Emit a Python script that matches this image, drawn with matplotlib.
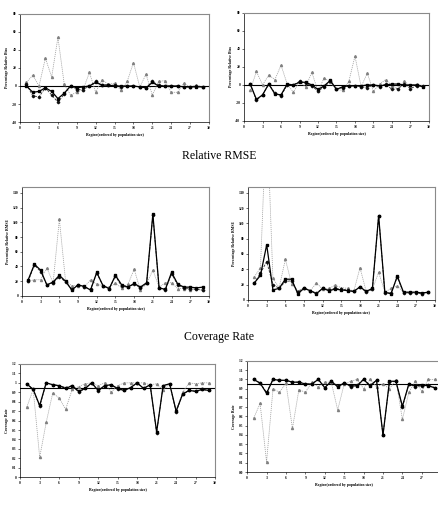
import matplotlib
matplotlib.use("Agg")
import matplotlib.pyplot as plt
import numpy as np

# --------- DATA ----------
regions = np.arange(1, 30)

# Percentage relative bias (left / right panels)
bias_l_solid = [0, -7, -6, -2, -6, -14, -8, 0, -2, -1, 0, 4, 1, 1, 0, 0, 0, 0, -1, -2, 4, 0, 0, 0, 0, -1, -1, -1, -1]
bias_l_dash = [2, -11, -12, -2, -10, -18, -9, 0, -4, -4, 0, 5, 1, 1, 1, -1, 0, 0, -1, -2, 5, 1, 0, 0, 0, -1, -1, 0, -1]
bias_l_dot = [4, 12, 0, 31, 10, 54, 2, -10, -7, -4, 15, -7, 7, 2, 3, -5, 5, 26, -1, 13, -10, 5, 6, -7, -7, 3, -1, 1, -1]

bias_r_solid = [1, -16, -11, 1, -10, -11, 1, 0, 3, 3, 0, -5, -1, 5, -5, -2, -1, -1, -1, 0, 0, -1, 0, 1, 1, 0, 0, 0, -2]
bias_r_dash = [1, -17, -11, 1, -9, -12, 0, 0, 4, 2, -1, -7, -2, 4, -4, -3, -1, -1, -2, -3, 0, -2, 1, -5, -4, 1, -4, -1, -1]
bias_r_dot = [-6, 15, 0, 11, 6, 22, 1, -8, 4, -2, 14, -7, 8, 3, -5, -6, 4, 32, -2, 13, -7, 1, 6, -1, -4, 4, -1, 1, -1]

# Percentage relative RMSE
rmse_l_solid = [22, 43, 35, 15, 19, 28, 20, 8, 15, 13, 8, 32, 14, 10, 28, 15, 12, 17, 12, 18, 111, 11, 9, 32, 16, 12, 12, 11, 12]
rmse_l_dash = [20, 42, 33, 15, 18, 26, 19, 9, 15, 12, 9, 31, 14, 10, 27, 13, 12, 16, 11, 17, 110, 11, 8, 30, 15, 11, 10, 9, 8]
rmse_l_dot = [20, 22, 22, 38, 18, 104, 20, 14, 14, 12, 22, 16, 14, 12, 17, 11, 16, 36, 8, 17, 35, 12, 18, 18, 10, 10, 8, 9, 8]

rmse_r_solid = [22, 32, 72, 13, 15, 27, 27, 8, 15, 12, 8, 15, 12, 14, 13, 12, 11, 17, 11, 15, 110, 10, 8, 31, 10, 10, 10, 9, 10]
rmse_r_dash = [22, 35, 50, 20, 15, 24, 25, 10, 16, 12, 9, 15, 13, 15, 14, 13, 11, 17, 10, 14, 110, 9, 9, 30, 9, 9, 9, 8, 10]
rmse_r_dot = [30, 42, 250, 28, 16, 53, 21, 12, 15, 12, 22, 14, 15, 19, 16, 15, 11, 42, 11, 14, 36, 10, 15, 18, 10, 10, 10, 8, 10]

# Coverage rate
cov_l_solid = [0.99, 0.93, 0.76, 1.00, 0.98, 0.97, 0.94, 0.97, 0.91, 0.94, 1.00, 0.92, 0.97, 0.98, 0.94, 0.92, 0.95, 1.00, 0.94, 0.98, 0.48, 0.97, 0.99, 0.70, 0.88, 0.92, 0.91, 0.93, 0.92]
cov_l_dash = [0.99, 0.93, 0.75, 1.00, 0.98, 0.97, 0.95, 0.97, 0.90, 0.94, 1.00, 0.91, 0.97, 0.98, 0.93, 0.92, 0.95, 1.00, 0.94, 0.98, 0.47, 0.97, 0.99, 0.69, 0.88, 0.92, 0.91, 0.93, 0.92]
cov_l_dot = [0.74, 0.93, 0.21, 0.58, 0.89, 0.84, 0.72, 0.93, 0.96, 0.99, 1.00, 0.97, 1.00, 0.90, 0.97, 1.00, 1.00, 1.00, 1.00, 0.98, 0.99, 0.92, 0.99, 0.71, 0.90, 1.00, 0.99, 1.00, 1.00]

cov_r_solid = [1.00, 0.96, 0.85, 1.00, 0.99, 0.99, 0.97, 0.97, 0.95, 0.95, 1.00, 0.91, 0.98, 0.92, 0.96, 0.93, 0.93, 1.00, 0.93, 0.99, 0.40, 0.98, 0.98, 0.71, 0.95, 0.93, 0.94, 0.93, 0.91]
cov_r_dash = [1.00, 0.96, 0.86, 1.00, 0.99, 0.99, 0.97, 0.97, 0.95, 0.95, 1.00, 0.91, 0.98, 0.93, 0.96, 0.92, 0.94, 1.00, 0.94, 0.99, 0.40, 0.97, 0.98, 0.70, 0.95, 0.92, 0.93, 0.94, 0.91]
cov_r_dot = [0.58, 0.74, 0.11, 0.90, 0.86, 0.96, 0.47, 0.89, 0.86, 0.97, 0.92, 0.97, 0.97, 0.67, 0.95, 0.98, 1.00, 0.90, 1.00, 0.92, 0.95, 0.90, 0.99, 0.57, 0.86, 0.98, 0.87, 1.00, 1.00]

x_ticks = list(range(0, 31, 3))
x_ticks_short = list(range(0, 28, 3))
xlabel = "Region(ordered by population size)"

fig = plt.figure(figsize=(4.39, 5.17), dpi=100)
fig.patch.set_facecolor("white")


def panel(rect, solid, dash, dot, ylim, yticks, ytick_labels, ylabel, ref, xt=x_ticks):
    ax = fig.add_axes(rect)
    ax.plot(regions, dot, linestyle=(0, (1.5, 1.2)), color="#a0a0a0", lw=0.55,
            marker="^", ms=1.5, mfc="#808080", mec="#808080", zorder=2)
    ax.plot(regions, dash, linestyle=(0, (3, 1.5)), color="#333333", lw=0.6,
            marker="D", ms=1.3, mfc="#111111", mec="#111111", zorder=3)
    ax.plot(regions, solid, linestyle="-", color="black", lw=0.9,
            marker="s", ms=1.7, mfc="black", mec="black", zorder=4)
    ax.axhline(ref, color="black", lw=0.8, zorder=1)
    ax.set_xlim(0, 30)
    ax.set_ylim(*ylim)
    ax.set_xticks(xt)
    ax.set_yticks(yticks)
    ax.set_yticklabels(ytick_labels)
    ax.tick_params(labelsize=2.6, length=1.2, width=0.4, pad=1.5)
    for s in ["top", "right"]:
        ax.spines[s].set_color("#8a8a8a")
        ax.spines[s].set_linewidth(0.8)
    for s in ["left", "bottom"]:
        ax.spines[s].set_linewidth(0.5)
    ax.set_xlabel(xlabel, fontsize=2.8, fontfamily="Liberation Serif", fontweight="bold", labelpad=2.5)
    ax.set_ylabel(ylabel, fontsize=2.8, fontfamily="Liberation Serif", fontweight="bold", labelpad=2)
    for lab in ax.get_xticklabels() + ax.get_yticklabels():
        lab.set_fontfamily("Liberation Serif")
        lab.set_fontweight("bold")
    return ax


bias_ticks = list(range(-40, 81, 20))
panel([0.046, 0.764, 0.430, 0.209], bias_l_solid, bias_l_dash, bias_l_dot,
      (-40, 80), bias_ticks, [str(t) for t in bias_ticks], "Percentage Relative Bias", 0)
panel([0.556, 0.766, 0.421, 0.209], bias_r_solid, bias_r_dash, bias_r_dot,
      (-40, 80), bias_ticks, [str(t) for t in bias_ticks], "Percentage Relative Bias", 0)

rmse_ticks = list(range(0, 141, 20))
panel([0.050, 0.4275, 0.426, 0.211], rmse_l_solid, rmse_l_dash, rmse_l_dot,
      (0, 148), rmse_ticks, [str(t) for t in rmse_ticks], "Percentage Relative RMSE", -10)
panel([0.565, 0.420, 0.425, 0.219], rmse_r_solid, rmse_r_dash, rmse_r_dot,
      (0, 148), rmse_ticks, [str(t) for t in rmse_ticks], "Percentage Relative RMSE", -10)

cov_ticks = [round(0.1 * i, 1) for i in range(13)]
cov_l_labels = ["0", "0.1", "0.2", "0.3", "0.4", "0.5", "0.6", "0.7", "0.8", "0.9", "1", "1.1", "1.2"]
cov_r_labels = ["%.1f" % t for t in cov_ticks]
panel([0.046, 0.077, 0.444, 0.219], cov_l_solid, cov_l_dash, cov_l_dot,
      (0, 1.2), cov_ticks, cov_l_labels, "Coverage Rate", 0.95)
panel([0.563, 0.087, 0.442, 0.215], cov_r_solid, cov_r_dash, cov_r_dot,
      (0, 1.2), cov_ticks, cov_r_labels, "Coverage Rate", 0.95, xt=x_ticks_short)

fig.text(0.5, 0.698, "Relative RMSE", ha="center", va="center",
         fontsize=8.5, fontfamily="Liberation Serif")
fig.text(0.5, 0.348, "Coverage Rate", ha="center", va="center",
         fontsize=8.5, fontfamily="Liberation Serif")

plt.savefig("out.png", dpi=100)
plt.close()
